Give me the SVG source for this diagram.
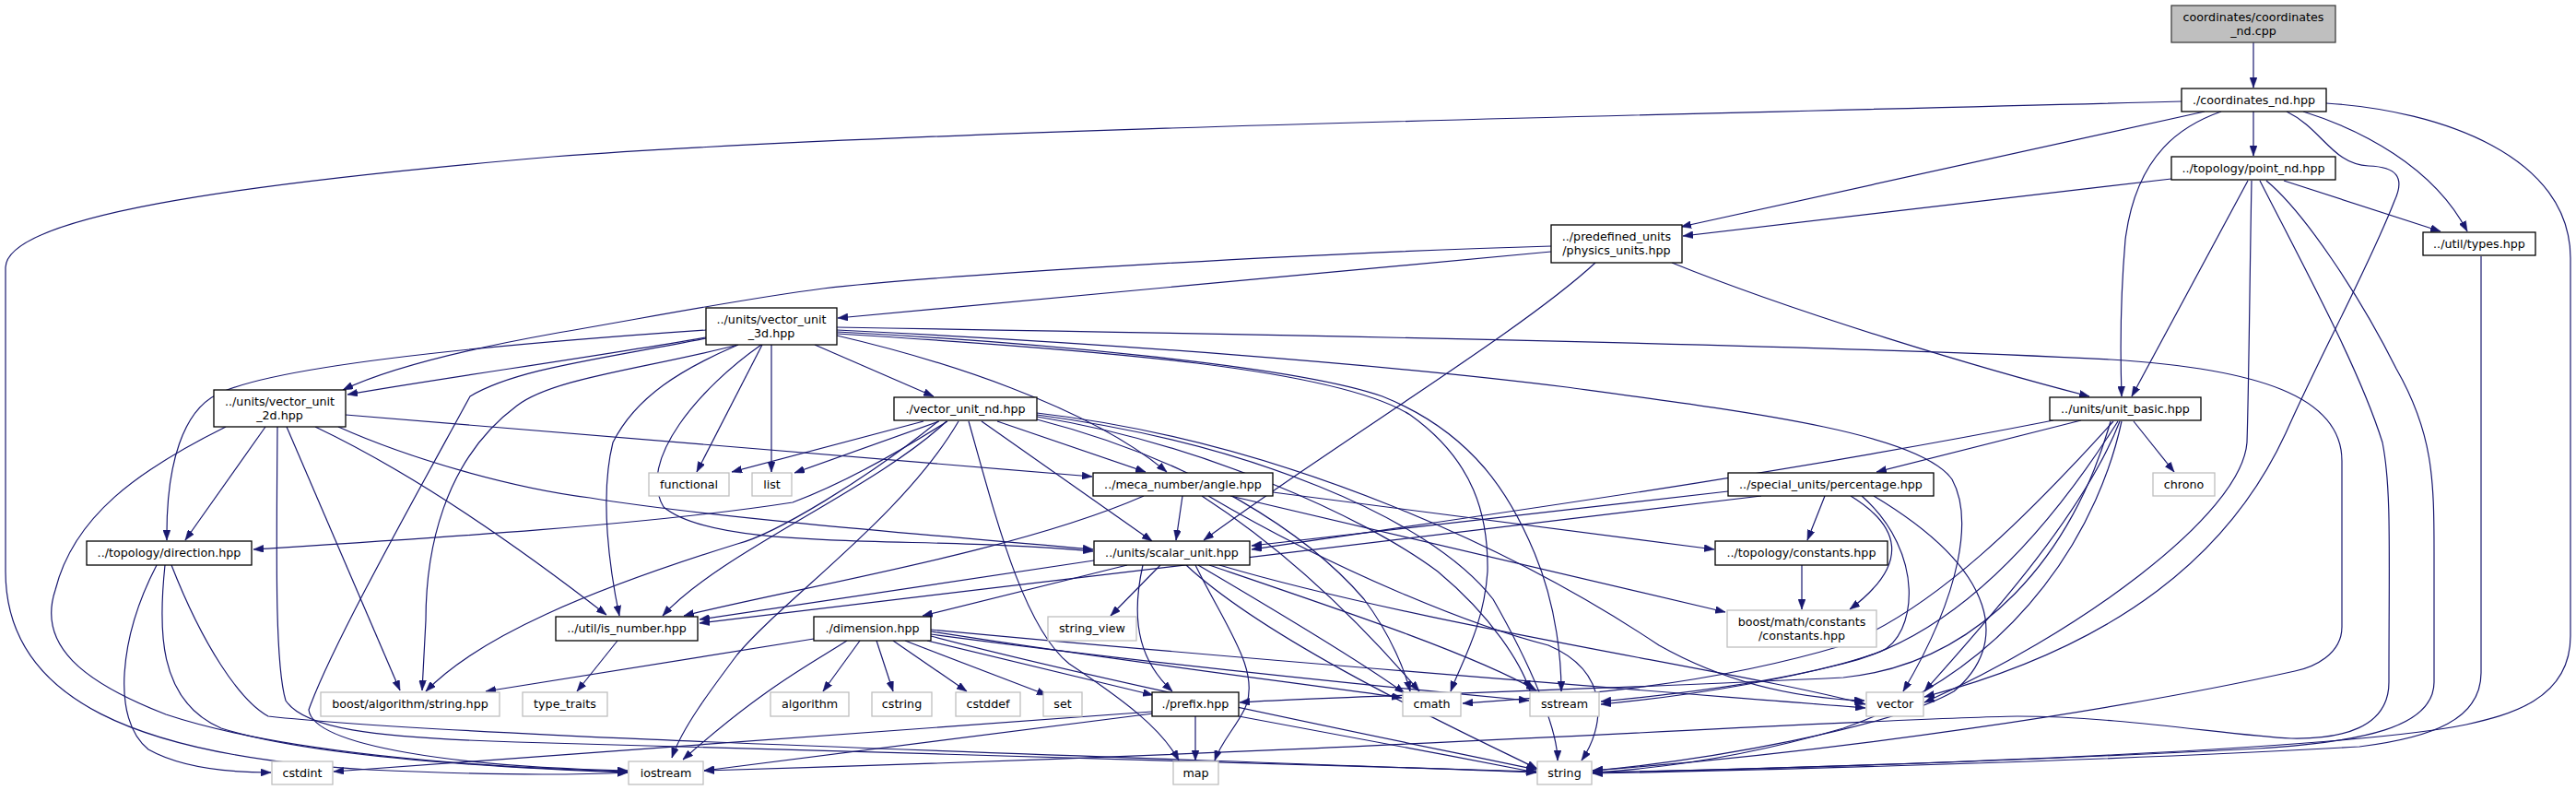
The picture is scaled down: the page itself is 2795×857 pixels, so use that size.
<svg xmlns="http://www.w3.org/2000/svg" width="2795" height="857" viewBox="0 0 2795 857">
<style>
.n rect{fill:#fff;stroke:#000;stroke-width:1.3}
.s rect{fill:#fff;stroke:#bfbfbf;stroke-width:1.3}
.r rect{fill:#bfbfbf;stroke:#404040;stroke-width:1.3}
text{font-family:"DejaVu Sans","Liberation Sans",sans-serif;font-size:12.7px;text-anchor:middle;fill:#000}
#edges path{fill:none;stroke:#191970;stroke-width:1.2;marker-end:url(#a)}
</style>
<defs>
<marker id="a" markerUnits="userSpaceOnUse" markerWidth="11" markerHeight="8" refX="11" refY="4" orient="auto">
<path d="M0,0 L11,4 L0,8 z" fill="#191970" stroke="#191970" stroke-width="0.5"/>
</marker>
</defs>
<rect width="2795" height="857" fill="#fff"/>
<g id="edges">
<path d="M2445,46 L2445,95"/>
<path d="M2392,121 L1824,246"/>
<path d="M2445,121 L2445,169"/>
<path d="M2410,121 C2370,135 2318,165 2306,260 C2300,330 2301,400 2302,430"/>
<path d="M2499,121 C2560,140 2640,180 2677,251"/>
<path d="M2481,121 C2520,140 2530,178 2570,180 C2600,181 2610,192 2598,218 C2570,290 2520,380 2480,470 C2420,600 2300,700 2088,756"/>
<path d="M2524,112 C2650,120 2789,170 2789,280 L2789,690 C2789,760 2720,776 2676,786 C2550,812 2100,830 1728,838"/>
<path d="M2367,110 C1800,125 1000,140 600,170 C250,200 8,235 6,290 L6,620 C6,760 150,820 400,835 C550,842 640,840 681,838"/>
<path d="M2356,194 L1826,256"/>
<path d="M2439,196 L2313,430"/>
<path d="M2443,196 C2441,300 2440,420 2438,480 C2432,560 2250,690 2088,762"/>
<path d="M2478,196 L2648,251"/>
<path d="M2452,196 C2500,290 2560,400 2585,480 C2595,530 2592,600 2592,740 C2592,790 2540,802 2486,801 C2420,798 2300,777 2189,777 C2000,780 1500,815 764,836"/>
<path d="M2459,196 C2500,230 2560,320 2600,400 C2640,470 2641,520 2641,600 L2641,740 C2641,790 2560,805 2450,812 C2200,825 1900,835 1728,838"/>
<path d="M2692,278 L2692,730 C2692,780 2640,800 2560,810 C2300,825 1900,836 1728,839"/>
<path d="M1683,273 L909,345"/>
<path d="M1683,267 C1400,275 1000,300 893,313 C800,325 700,345 600,362 C500,380 420,400 372,423"/>
<path d="M1731,285 C1650,360 1450,480 1306,586"/>
<path d="M1814,285 C1950,340 2150,400 2267,430"/>
<path d="M766,366 C640,388 480,410 377,428"/>
<path d="M766,358 C560,372 300,395 235,428 C200,446 180,500 181,586"/>
<path d="M766,367 C650,390 560,400 510,430 C450,540 360,700 335,770 C340,810 500,832 681,836"/>
<path d="M801,374 C700,400 600,410 561,440 C480,500 462,600 462,673 L458,749"/>
<path d="M801,374 C740,400 690,430 665,480 C650,540 662,620 672,668"/>
<path d="M826,374 C760,420 690,500 720,550 C780,600 1000,580 1186,598"/>
<path d="M827,374 L756,512"/>
<path d="M837,374 L837,512"/>
<path d="M884,374 L1013,430"/>
<path d="M908,364 C1020,390 1180,440 1266,512"/>
<path d="M908,362 C1200,380 1450,400 1530,450 C1600,500 1615,560 1614,620 C1610,680 1585,720 1574,750"/>
<path d="M908,360 C1100,370 1400,395 1500,430 C1600,470 1640,540 1665,600 C1690,660 1694,720 1694,750"/>
<path d="M908,358 C1200,372 1500,395 1700,420 C1900,447 2083,470 2118,520 C2140,560 2130,640 2065,750"/>
<path d="M908,355 C1400,363 2000,375 2290,390 C2450,400 2541,430 2541,500 L2541,680 C2541,710 2510,724 2490,728 C2300,770 2000,815 1728,836"/>
<path d="M288,463 L201,586"/>
<path d="M375,450 L1185,517"/>
<path d="M367,463 C450,500 560,530 640,540 C760,560 1000,580 1186,596"/>
<path d="M342,463 C420,500 520,560 658,667"/>
<path d="M311,463 L434,749"/>
<path d="M245,463 C150,510 80,560 60,640 C40,700 90,740 180,775 C300,815 500,832 681,837"/>
<path d="M301,463 C300,600 298,720 310,760 C330,790 400,800 560,805 C900,815 1400,828 1667,837"/>
<path d="M170,613 C130,690 120,780 161,813 C200,835 260,838 294,838"/>
<path d="M179,613 C172,680 170,760 240,790 C350,825 600,835 681,838"/>
<path d="M186,613 C220,700 260,760 291,777 C500,800 1200,820 1667,838"/>
<path d="M1002,457 L794,512"/>
<path d="M1019,457 L862,513"/>
<path d="M1028,457 C960,500 900,530 860,545 C700,570 450,585 275,596"/>
<path d="M1027,457 C950,530 780,600 719,668"/>
<path d="M1018,457 C940,520 840,580 800,590 C640,640 520,690 462,750"/>
<path d="M1040,457 C980,560 850,650 800,710 C770,750 740,790 729,822"/>
<path d="M1051,457 C1080,560 1110,680 1160,720 C1220,760 1260,790 1279,825"/>
<path d="M1065,457 L1250,587"/>
<path d="M1082,457 L1243,512"/>
<path d="M1125,455 C1300,500 1420,580 1480,650 C1510,690 1525,730 1530,750"/>
<path d="M1125,452 C1300,480 1480,560 1560,620 C1620,670 1650,720 1660,749"/>
<path d="M1125,448 C1400,480 1650,600 1800,700 C1880,745 1960,758 2023,760"/>
<path d="M1125,450 C1350,480 1550,560 1620,650 C1660,720 1690,790 1690,825"/>
<path d="M1283,538 L1276,586"/>
<path d="M1241,538 C1100,600 850,640 742,668"/>
<path d="M1381,534 L1860,596"/>
<path d="M1335,538 L1872,664"/>
<path d="M1304,538 C1400,600 1480,680 1540,750"/>
<path d="M1311,538 C1450,620 1600,680 1680,700 C1750,730 1740,790 1716,825"/>
<path d="M2228,456 C1900,520 1600,560 1358,596"/>
<path d="M2258,456 L2036,512"/>
<path d="M2315,457 L2359,512"/>
<path d="M2293,457 C2200,560 2100,660 2000,700 C1850,745 1700,755 1587,763"/>
<path d="M2298,457 C2220,580 2120,690 2000,720 C1900,745 1800,758 1737,764"/>
<path d="M2300,457 C2260,560 2150,680 2088,750"/>
<path d="M2302,457 C2280,560 2200,720 2000,790 C1880,825 1780,835 1728,838"/>
<path d="M2290,457 C2250,600 2150,720 2000,735 C1700,750 1450,755 1345,762"/>
<path d="M1875,533 L1358,592"/>
<path d="M1911,538 L759,676"/>
<path d="M1980,538 L1961,586"/>
<path d="M2008,538 C2060,570 2075,610 2007,661"/>
<path d="M2020,538 C2090,600 2080,690 2040,707 C1950,740 1800,755 1737,761"/>
<path d="M2033,538 C2170,620 2180,700 2120,750 C2050,790 1850,825 1728,836"/>
<path d="M1955,613 L1955,661"/>
<path d="M1187,608 L759,672"/>
<path d="M1223,613 L1001,668"/>
<path d="M1259,613 L1205,668"/>
<path d="M1240,613 C1225,680 1240,720 1272,750"/>
<path d="M1297,613 C1330,680 1370,730 1350,770 C1340,790 1325,805 1318,825"/>
<path d="M1300,613 C1380,660 1480,720 1524,752"/>
<path d="M1312,613 C1450,660 1600,710 1667,749"/>
<path d="M1323,613 C1550,680 1900,730 2024,764"/>
<path d="M1287,613 C1380,700 1600,800 1668,834"/>
<path d="M670,695 L626,750"/>
<path d="M883,693 L527,750"/>
<path d="M919,695 C880,720 830,745 741,824"/>
<path d="M933,695 L893,750"/>
<path d="M951,695 L969,750"/>
<path d="M969,695 L1049,750"/>
<path d="M982,695 L1136,754"/>
<path d="M1006,695 L1251,754"/>
<path d="M1010,685 C1200,715 1400,740 1521,757"/>
<path d="M1010,688 C1250,720 1500,745 1659,760"/>
<path d="M1010,683 C1400,720 1800,750 2024,768"/>
<path d="M1010,690 C1200,740 1500,800 1667,835"/>
<path d="M1250,772 L362,837"/>
<path d="M1259,773 L764,836"/>
<path d="M1297,777 L1297,825"/>
<path d="M1344,777 C1400,787 1550,815 1667,838"/>
</g>
<g id="n_cpp" class="r"><rect x="2356" y="6" width="178" height="40"/><text x="2445" y="23">coordinates/coordinates</text><text x="2445" y="38">_nd.cpp</text></g>
<g id="n_coord" class="n"><rect x="2367" y="96" width="157" height="25"/><text x="2445.5" y="113">./coordinates_nd.hpp</text></g>
<g id="n_point" class="n"><rect x="2356" y="170" width="178" height="25"/><text x="2445" y="187">../topology/point_nd.hpp</text></g>
<g id="n_physics" class="n"><rect x="1683" y="244" width="142" height="41"/><text x="1754" y="261">../predefined_units</text><text x="1754" y="276">/physics_units.hpp</text></g>
<g id="n_types" class="n"><rect x="2629" y="252" width="122" height="25"/><text x="2690" y="269">../util/types.hpp</text></g>
<g id="n_vu3d" class="n"><rect x="766" y="334" width="142" height="40"/><text x="837" y="351">../units/vector_unit</text><text x="837" y="366">_3d.hpp</text></g>
<g id="n_vu2d" class="n"><rect x="232" y="423" width="143" height="40"/><text x="303.5" y="440">../units/vector_unit</text><text x="303.5" y="455">_2d.hpp</text></g>
<g id="n_vund" class="n"><rect x="970" y="431" width="155" height="25"/><text x="1047.5" y="448">./vector_unit_nd.hpp</text></g>
<g id="n_unitbasic" class="n"><rect x="2224" y="431" width="164" height="25"/><text x="2306" y="448">../units/unit_basic.hpp</text></g>
<g id="n_functional" class="s"><rect x="704" y="513" width="87" height="25"/><text x="747.5" y="530">functional</text></g>
<g id="n_list" class="s"><rect x="816" y="513" width="43" height="25"/><text x="837.5" y="530">list</text></g>
<g id="n_angle" class="n"><rect x="1186" y="513" width="195" height="25"/><text x="1283.5" y="530">../meca_number/angle.hpp</text></g>
<g id="n_percentage" class="n"><rect x="1875" y="513" width="223" height="25"/><text x="1986.5" y="530">../special_units/percentage.hpp</text></g>
<g id="n_chrono" class="s"><rect x="2336" y="513" width="67" height="25"/><text x="2369.5" y="530">chrono</text></g>
<g id="n_direction" class="n"><rect x="94" y="587" width="179" height="26"/><text x="183.5" y="604">../topology/direction.hpp</text></g>
<g id="n_scalar" class="n"><rect x="1187" y="587" width="169" height="26"/><text x="1271.5" y="604">../units/scalar_unit.hpp</text></g>
<g id="n_tconst" class="n"><rect x="1861" y="587" width="187" height="26"/><text x="1954.5" y="604">../topology/constants.hpp</text></g>
<g id="n_isnumber" class="n"><rect x="603" y="669" width="154" height="26"/><text x="680" y="686">../util/is_number.hpp</text></g>
<g id="n_dimension" class="n"><rect x="883" y="669" width="127" height="26"/><text x="946.5" y="686">./dimension.hpp</text></g>
<g id="n_stringview" class="s"><rect x="1137" y="669" width="96" height="26"/><text x="1185" y="686">string_view</text></g>
<g id="n_bmconst" class="s"><rect x="1874" y="662" width="162" height="40"/><text x="1955" y="679">boost/math/constants</text><text x="1955" y="694">/constants.hpp</text></g>
<g id="n_bstring" class="s"><rect x="348" y="751" width="194" height="26"/><text x="445" y="768">boost/algorithm/string.hpp</text></g>
<g id="n_typetraits" class="s"><rect x="567" y="751" width="92" height="26"/><text x="613" y="768">type_traits</text></g>
<g id="n_algorithm" class="s"><rect x="836" y="751" width="85" height="26"/><text x="878.5" y="768">algorithm</text></g>
<g id="n_cstring" class="s"><rect x="946" y="751" width="65" height="26"/><text x="978.5" y="768">cstring</text></g>
<g id="n_cstddef" class="s"><rect x="1037" y="751" width="70" height="26"/><text x="1072" y="768">cstddef</text></g>
<g id="n_set" class="s"><rect x="1132" y="751" width="42" height="26"/><text x="1153" y="768">set</text></g>
<g id="n_prefix" class="n"><rect x="1250" y="751" width="94" height="26"/><text x="1297" y="768">./prefix.hpp</text></g>
<g id="n_cmath" class="s"><rect x="1522" y="751" width="63" height="26"/><text x="1553.5" y="768">cmath</text></g>
<g id="n_sstream" class="s"><rect x="1660" y="751" width="75" height="26"/><text x="1697.5" y="768">sstream</text></g>
<g id="n_vector" class="s"><rect x="2025" y="751" width="62" height="26"/><text x="2056" y="768">vector</text></g>
<g id="n_cstdint" class="s"><rect x="295" y="826" width="66" height="25"/><text x="328" y="843">cstdint</text></g>
<g id="n_iostream" class="s"><rect x="682" y="826" width="81" height="25"/><text x="722.5" y="843">iostream</text></g>
<g id="n_map" class="s"><rect x="1273" y="826" width="49" height="25"/><text x="1297.5" y="843">map</text></g>
<g id="n_string" class="s"><rect x="1668" y="826" width="59" height="25"/><text x="1697.5" y="843">string</text></g>
</svg>
